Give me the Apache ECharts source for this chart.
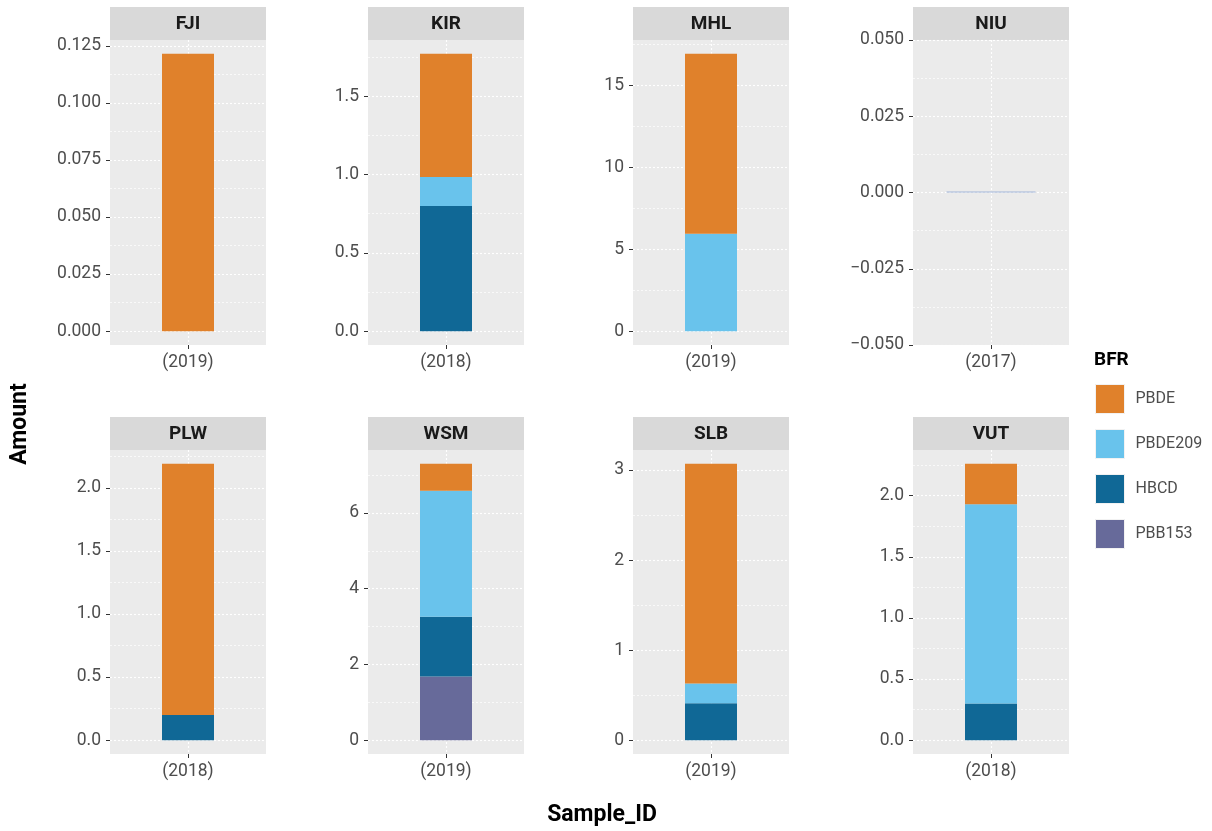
<!DOCTYPE html>
<html>
<head>
<meta charset="utf-8">
<title>BFR amounts by sample</title>
<script src="https://cdn.jsdelivr.net/npm/echarts@6/dist/echarts.min.js"></script>
<style>
  html, body { margin: 0; padding: 0; background: #ffffff; }
  #chart { width: 1212px; height: 831px; }
</style>
</head>
<body>
<div id="chart"></div>
<script>
// ---- data -------------------------------------------------------------
const panels  = ['FJI', 'KIR', 'MHL', 'NIU', 'PLW', 'WSM', 'SLB', 'VUT'];
const years   = ['(2019)', '(2018)', '(2019)', '(2017)', '(2018)', '(2019)', '(2019)', '(2018)'];
const pbde    = [0.1215, 0.786, 10.99, 0, 1.99, 0.71, 2.44, 0.33];
const pbde209 = [0,      0.185, 5.95,  0, 0,    3.33, 0.22, 1.63];
const hbcd    = [0,      0.80,  0,     0, 0.20, 1.58, 0.41, 0.30];
const pbb153  = [0,      0,     0,     0, 0,    1.68, 0,    0];
// major tick spacing and label decimals for each panel's y scale
const tickSteps    = [0.025, 0.5, 5, 0.025, 0.5, 2, 1, 0.5];
const tickDecimals = [3, 1, 0, 3, 1, 0, 0, 1];
const bfrNames  = ['PBDE', 'PBDE209', 'HBCD', 'PBB153'];

// ---- styling / layout ---------------------------------------------------
const bfrColors = { PBDE: '#E0812B', PBDE209: '#69C3EC', HBCD: '#106896', PBB153: '#676A9A' };
const zeroColor = '#9FB3D8';
const colLeft = [110, 368, 633, 913];
const rowTop  = [40, 450];
const rowH    = [305, 304];
const panelW  = 156;
const stripH  = 33;
const FONT = 'Roboto, "Noto Sans", sans-serif';

// stacking order from bottom to top
const stackOrder = [
  ['PBB153', pbb153],
  ['HBCD', hbcd],
  ['PBDE209', pbde209],
  ['PBDE', pbde]
];

function fmt(v, d) {
  const s = Math.abs(v).toFixed(d);
  return (v < -1e-12 ? '\u2212' : '') + s;
}

function ticksBetween(lo, hi, step) {
  const out = [];
  const k0 = Math.ceil(lo / step - 1e-9);
  const k1 = Math.floor(hi / step + 1e-9);
  for (let k = k0; k <= k1; k++) {
    let v = +(k * step).toFixed(10);
    v = Math.min(Math.max(v, lo), hi);
    out.push(v);
  }
  return out;
}

const grids = [], xAxes = [], yAxes = [], series = [], graphics = [];
const gridLine = { color: '#FFFFFF', type: [2, 2], width: 1.1 };
const minorLine = { color: '#FFFFFF', type: [2, 2], width: 0.7 };

panels.forEach((name, i) => {
  const r = Math.floor(i / 4), c = i % 4;
  const left = colLeft[c], top = rowTop[r], h = rowH[r];
  grids.push({
    left: left, top: top, width: panelW, height: h,
    show: true, backgroundColor: '#EBEBEB', borderWidth: 0
  });

  const total = pbde[i] + pbde209[i] + hbcd[i] + pbb153[i];
  const lo = total === 0 ? -0.05 : -0.05 * total;
  const hi = total === 0 ? 0.05 : 1.05 * total;
  const step = tickSteps[i];
  const major = ticksBetween(lo, hi, step);
  const all = ticksBetween(lo, hi, step / 2);
  const minor = all.filter(v => !major.some(m => Math.abs(m - v) < step * 1e-6));

  xAxes.push({
    gridIndex: i, type: 'category', data: [years[i]],
    axisLine: { show: false, onZero: false },
    axisTick: { show: true, alignWithLabel: true, length: 4, lineStyle: { color: '#333333', width: 1 } },
    axisLabel: { fontSize: 17.5, color: '#4D4D4D', fontFamily: FONT, margin: 9 },
    splitLine: { show: true, alignWithLabel: true, lineStyle: gridLine }
  });

  // major scale: labels, ticks and major grid lines
  yAxes.push({
    gridIndex: i, type: 'value', min: lo, max: hi, position: 'left',
    axisLine: { show: false },
    axisTick: { show: true, length: 4, customValues: major, lineStyle: { color: '#333333', width: 1 } },
    axisLabel: {
      customValues: major, fontSize: 17.5, color: '#4D4D4D', fontFamily: FONT, margin: 9,
      formatter: v => fmt(v, tickDecimals[i])
    },
    splitLine: { show: true, lineStyle: gridLine }
  });
  // minor grid lines on a twin scale
  yAxes.push({
    gridIndex: i, type: 'value', min: lo, max: hi, position: 'left',
    axisLine: { show: false },
    axisTick: { show: false, customValues: minor },
    axisLabel: { show: false, customValues: minor },
    splitLine: { show: true, lineStyle: minorLine }
  });

  const yIdx = 2 * i;
  if (total === 0) {
    series.push({
      type: 'bar', name: 'zero', xAxisIndex: i, yAxisIndex: yIdx, stack: 's' + i,
      data: [total], barWidth: 89, barMinHeight: 1,
      itemStyle: { color: zeroColor }, silent: true
    });
  } else {
    stackOrder.forEach(([bfr, arr]) => {
      if (arr[i] > 0) {
        series.push({
          type: 'bar', name: bfr, xAxisIndex: i, yAxisIndex: yIdx, stack: 's' + i,
          data: [arr[i]], barWidth: 52,
          itemStyle: { color: bfrColors[bfr] }, silent: true
        });
      }
    });
  }

  // facet strip
  graphics.push({
    type: 'group', silent: true,
    children: [
      { type: 'rect', shape: { x: left, y: top - stripH, width: panelW, height: stripH },
        style: { fill: '#D9D9D9' } },
      { type: 'text', x: left + panelW / 2, y: top - stripH / 2 + 1,
        style: { text: name, align: 'center', verticalAlign: 'middle',
                 font: 'bold 19px ' + FONT, fill: '#1A1A1A' } }
    ]
  });
});

// axis titles and legend heading
graphics.push(
  { type: 'text', x: 20, y: 424, rotation: Math.PI / 2, silent: true,
    style: { text: 'Amount', align: 'center', verticalAlign: 'middle', font: 'bold 23px ' + FONT, fill: '#000000' } },
  { type: 'text', x: 602, y: 815, silent: true,
    style: { text: 'Sample_ID', align: 'center', verticalAlign: 'middle', font: 'bold 23px ' + FONT, fill: '#000000' } },
  { type: 'text', x: 1094, y: 360, silent: true,
    style: { text: 'BFR', align: 'left', verticalAlign: 'middle', font: 'bold 19px ' + FONT, fill: '#000000' } }
);

const chart = echarts.init(document.getElementById('chart'), null, { renderer: 'canvas' });
chart.setOption({
  animation: false,
  backgroundColor: '#FFFFFF',
  textStyle: { fontFamily: FONT },
  grid: grids,
  xAxis: xAxes,
  yAxis: yAxes,
  series: series,
  legend: {
    orient: 'vertical', left: 1095, top: 384, padding: 0,
    itemWidth: 29, itemHeight: 29, itemGap: 15, icon: 'rect',
    selectedMode: false,
    data: bfrNames,
    itemStyle: { borderColor: '#F2F2F2', borderWidth: 1 },
    textStyle: { fontSize: 16, color: '#4D4D4D', fontFamily: FONT, padding: [0, 0, 0, 6] }
  },
  graphic: graphics
});
</script>
</body>
</html>
